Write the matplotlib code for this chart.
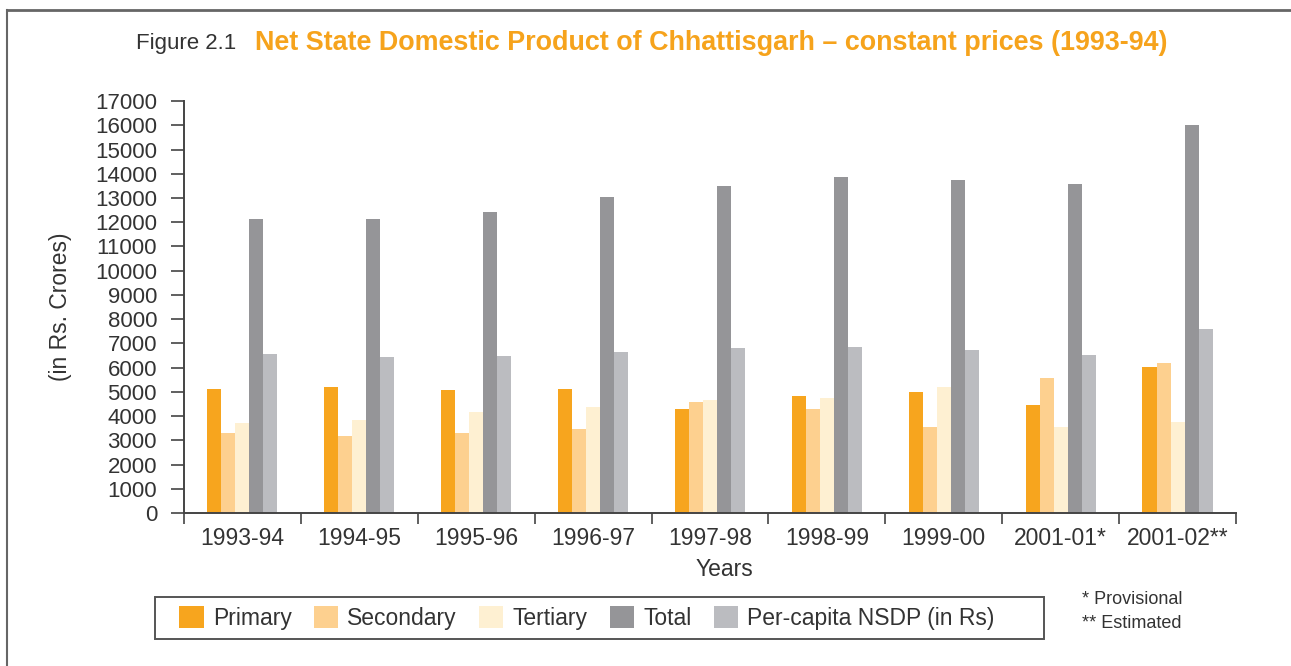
import matplotlib
matplotlib.use("Agg")
import matplotlib.pyplot as plt
import numpy as np
from matplotlib.patches import Patch, Rectangle
from matplotlib.lines import Line2D

plt.rcParams['font.family'] = ['Liberation Sans', 'DejaVu Sans']

years = ['1993-94', '1994-95', '1995-96', '1996-97', '1997-98',
         '1998-99', '1999-00', '2001-01*', '2001-02**']
primary = [5100, 5200, 5060, 5100, 4280, 4810, 4980, 4440, 6010]
secondary = [3300, 3170, 3300, 3460, 4570, 4280, 3540, 5560, 6170]
tertiary = [3700, 3830, 4160, 4360, 4650, 4730, 5180, 3540, 3740]
total = [12150, 12150, 12430, 13050, 13500, 13870, 13750, 13580, 16000]
per_capita = [6550, 6420, 6460, 6630, 6790, 6870, 6710, 6540, 7610]

series_names = ['Primary', 'Secondary', 'Tertiary', 'Total', 'Per-capita NSDP (in Rs)']
series_values = [primary, secondary, tertiary, total, per_capita]
colors = ['#F7A51E', '#FDD08F', '#FEF0D2', '#959598', '#BBBCC0']

text_color = '#333333'
axis_color = '#444444'

fig = plt.figure(figsize=(12.91, 6.66), dpi=100)
ax = fig.add_axes([0.1425, 0.2297, 0.8149, 0.6186])

x = np.arange(len(years))
bar_w = 0.12
for i, (vals, col) in enumerate(zip(series_values, colors)):
    ax.bar(x + (i - 2) * bar_w, vals, width=bar_w, color=col, linewidth=0)

ax.set_xlim(-0.5, len(years) - 0.5)
ax.set_ylim(0, 17000)
ax.set_yticks(np.arange(0, 17001, 1000))
ax.set_xticks(x)
ax.set_xticklabels(years)
ax.set_xticks(np.arange(-0.5, len(years), 1.0), minor=True)

for side in ['top', 'right']:
    ax.spines[side].set_visible(False)
for side in ['left', 'bottom']:
    ax.spines[side].set_color(axis_color)
    ax.spines[side].set_linewidth(1.4)

ax.tick_params(axis='y', direction='out', length=9.4, width=1.2, color=axis_color,
               labelsize=16, labelcolor=text_color, pad=10)
ax.tick_params(axis='x', which='major', length=0, labelsize=16.5,
               labelcolor=text_color, pad=10)
ax.tick_params(axis='x', which='minor', direction='out', length=8, width=1.2,
               color=axis_color)

ax.set_ylabel('(in Rs. Crores)', fontsize=16.5, color=text_color)
ax.yaxis.set_label_coords(-0.106, 0.5)
ax.set_xlabel('Years', fontsize=16.5, color=text_color)
ax.xaxis.set_label_coords(0.514, -0.11)

# title
fig.text(136 / 1291, 1 - 43 / 666, 'Figure 2.1', fontsize=16, color=text_color,
         ha='left', va='center')
fig.text(255 / 1291, 1 - 43 / 666,
         'Net State Domestic Product of Chhattisgarh \u2013 constant prices (1993-94)',
         fontsize=19.4, color='#F6A31C', fontweight='bold', ha='left', va='center')

# legend
handles = [Patch(facecolor=c, edgecolor='none') for c in colors]
fig.legend(handles, series_names, loc='center left',
           bbox_to_anchor=(168 / 1291, 1 - 618 / 666), ncol=5, frameon=False,
           fontsize=16.5, handlelength=1.05, handleheight=1.05,
           handletextpad=0.4, columnspacing=0.98, borderpad=0,
           labelcolor=text_color)
fig.add_artist(Rectangle((155 / 1291, 1 - 639 / 666), (1044 - 155) / 1291, 42 / 666,
                         transform=fig.transFigure, fill=False,
                         edgecolor='#555555', linewidth=1.4))

fig.text(1082 / 1291, 1 - 600 / 666, '* Provisional', fontsize=13,
         color=text_color, ha='left', va='center')
fig.text(1082 / 1291, 1 - 623 / 666, '** Estimated', fontsize=13,
         color=text_color, ha='left', va='center')

# outer frame
fig.add_artist(Line2D([7 / 1291, 1], [1 - 10 / 666, 1 - 10 / 666],
                      transform=fig.transFigure, color='#666666', linewidth=2))
fig.add_artist(Line2D([7 / 1291, 7 / 1291], [0, 1 - 10 / 666],
                      transform=fig.transFigure, color='#666666', linewidth=1.5))

fig.savefig('out.png', dpi=100)
